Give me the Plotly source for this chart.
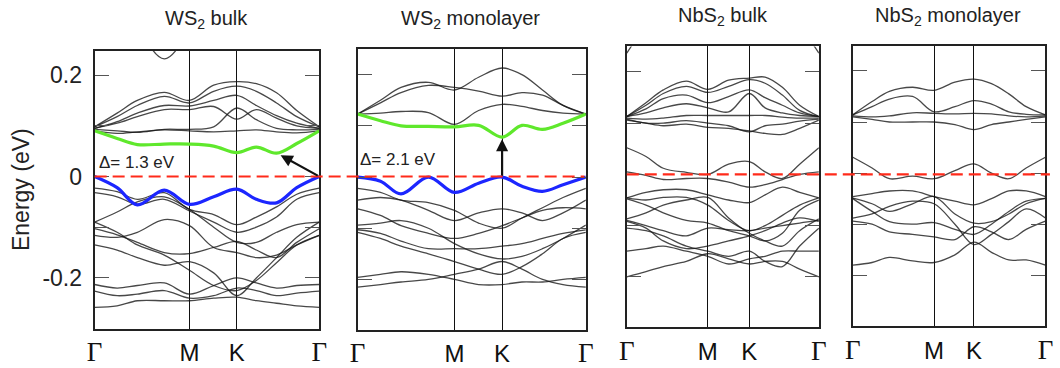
import plotly.graph_objects as go

# ---------------- data ----------------
panel_titles = ["WS<sub>2</sub> bulk", "WS<sub>2</sub> monolayer", "NbS<sub>2</sub> bulk", "NbS<sub>2</sub> monolayer"]
k_labels = ["Γ", "M", "K", "Γ"]
m_pos = [0.422, 0.424, 0.422, 0.422]
k_pos = [0.633, 0.633, 0.638, 0.629]
k_inner = [0.1, 0.19, 0.31, 0.53, 0.72, 0.81, 0.9]   # extra sampling points along the path

# energies (eV) at k = [0, .1, .19, .31, M, .53, K, .72, .81, .9, 1]
ws2_bulk_cb = [0.090, 0.075, 0.063, 0.064, 0.064, 0.060, 0.047, 0.058, 0.046, 0.065, 0.090]
ws2_bulk_vb = [0.0, -0.022, -0.056, -0.027, -0.055, -0.040, -0.025, -0.045, -0.052, -0.022, 0.0]
ws2_bulk_bands = [
    [0.50, 0.42, 0.30, 0.232, 0.29, 0.40, 0.45, 0.45, 0.45, 0.45, 0.50],
    [0.098, 0.125, 0.150, 0.166, 0.150, 0.180, 0.187, 0.183, 0.165, 0.130, 0.098],
    [0.098, 0.118, 0.140, 0.158, 0.145, 0.168, 0.178, 0.168, 0.145, 0.118, 0.098],
    [0.095, 0.108, 0.125, 0.140, 0.139, 0.150, 0.160, 0.140, 0.120, 0.105, 0.095],
    [0.095, 0.105, 0.118, 0.132, 0.132, 0.138, 0.113, 0.132, 0.115, 0.100, 0.095],
    [0.093, 0.090, 0.087, 0.093, 0.093, 0.098, 0.135, 0.112, 0.095, 0.092, 0.093],
    [0.090, 0.085, 0.088, 0.092, 0.090, 0.088, 0.090, 0.092, 0.088, 0.086, 0.090],
    [-0.023, -0.030, -0.045, -0.032, -0.065, -0.075, -0.095, -0.080, -0.060, -0.035, -0.023],
    [-0.032, -0.040, -0.055, -0.045, -0.068, -0.090, -0.110, -0.100, -0.080, -0.045, -0.032],
    [-0.090, -0.070, -0.050, -0.040, -0.065, -0.100, -0.130, -0.130, -0.110, -0.095, -0.090],
    [-0.103, -0.115, -0.130, -0.150, -0.152, -0.140, -0.128, -0.145, -0.160, -0.130, -0.103],
    [-0.116, -0.120, -0.110, -0.085, -0.097, -0.140, -0.150, -0.160, -0.155, -0.135, -0.116],
    [-0.135, -0.145, -0.160, -0.175, -0.168, -0.190, -0.235, -0.200, -0.160, -0.120, -0.090],
    [-0.090, -0.110, -0.135, -0.155, -0.185, -0.215, -0.225, -0.205, -0.170, -0.135, -0.116],
    [-0.213, -0.220, -0.215, -0.210, -0.232, -0.215, -0.200, -0.210, -0.220, -0.215, -0.213],
    [-0.226, -0.235, -0.232, -0.225, -0.240, -0.235, -0.220, -0.225, -0.235, -0.230, -0.226],
    [-0.258, -0.255, -0.245, -0.245, -0.245, -0.240, -0.238, -0.245, -0.250, -0.255, -0.258],
]

ws2_mono_cb = [0.123, 0.110, 0.100, 0.099, 0.098, 0.101, 0.078, 0.101, 0.093, 0.105, 0.123]
ws2_mono_vb = [0.0, -0.008, -0.033, 0.0, -0.030, -0.012, 0.0, -0.018, -0.028, -0.015, 0.0]
ws2_mono_bands = [
    [0.123, 0.150, 0.175, 0.185, 0.170, 0.195, 0.213, 0.200, 0.170, 0.140, 0.123],
    [0.123, 0.145, 0.165, 0.179, 0.175, 0.168, 0.158, 0.165, 0.160, 0.140, 0.123],
    [0.123, 0.125, 0.128, 0.126, 0.103, 0.130, 0.142, 0.138, 0.130, 0.125, 0.123],
    [-0.022, -0.030, -0.045, -0.050, -0.065, -0.090, -0.100, -0.080, -0.060, -0.040, -0.022],
    [-0.045, -0.040, -0.045, -0.065, -0.085, -0.070, -0.062, -0.070, -0.085, -0.070, -0.045],
    [-0.062, -0.075, -0.095, -0.110, -0.120, -0.110, -0.095, -0.080, -0.065, -0.060, -0.062],
    [-0.094, -0.090, -0.085, -0.100, -0.130, -0.150, -0.160, -0.155, -0.140, -0.120, -0.094],
    [-0.103, -0.110, -0.125, -0.140, -0.140, -0.140, -0.135, -0.130, -0.120, -0.110, -0.103],
    [-0.108, -0.120, -0.135, -0.150, -0.165, -0.180, -0.190, -0.175, -0.150, -0.120, -0.108],
    [-0.196, -0.190, -0.185, -0.190, -0.200, -0.210, -0.210, -0.205, -0.205, -0.200, -0.196],
    [-0.215, -0.210, -0.205, -0.200, -0.190, -0.180, -0.165, -0.180, -0.200, -0.210, -0.215],
]

nbs2_bulk_bands = [
    [0.237, 0.300, 0.400, 0.500, 0.500, 0.500, 0.500, 0.500, 0.400, 0.300, 0.237],
    [0.113, 0.140, 0.165, 0.182, 0.166, 0.184, 0.188, 0.190, 0.170, 0.135, 0.113],
    [0.113, 0.135, 0.158, 0.172, 0.160, 0.172, 0.185, 0.178, 0.155, 0.125, 0.113],
    [0.113, 0.128, 0.148, 0.155, 0.140, 0.152, 0.165, 0.150, 0.135, 0.120, 0.113],
    [0.113, 0.120, 0.130, 0.138, 0.130, 0.122, 0.158, 0.130, 0.120, 0.115, 0.113],
    [0.110, 0.108, 0.110, 0.115, 0.115, 0.115, 0.115, 0.115, 0.112, 0.110, 0.110],
    [0.108, 0.100, 0.100, 0.105, 0.100, 0.095, 0.083, 0.095, 0.098, 0.104, 0.108],
    [0.106, 0.100, 0.095, 0.098, 0.092, 0.090, 0.085, 0.080, 0.078, 0.090, 0.106],
    [0.052, 0.035, 0.012, 0.004, 0.000, 0.020, 0.025, 0.005, -0.008, 0.020, 0.052],
    [0.005, -0.002, -0.010, -0.008, -0.008, -0.015, -0.025, -0.020, -0.010, 0.000, 0.005],
    [-0.046, -0.035, -0.030, -0.030, -0.040, -0.050, -0.055, -0.040, -0.025, -0.035, -0.046],
    [-0.046, -0.050, -0.045, -0.045, -0.060, -0.090, -0.110, -0.100, -0.080, -0.060, -0.046],
    [-0.048, -0.060, -0.075, -0.090, -0.095, -0.110, -0.120, -0.130, -0.115, -0.070, -0.050],
    [-0.087, -0.075, -0.060, -0.050, -0.045, -0.085, -0.115, -0.130, -0.140, -0.110, -0.087],
    [-0.090, -0.100, -0.110, -0.120, -0.105, -0.108, -0.110, -0.105, -0.100, -0.095, -0.090],
    [-0.092, -0.105, -0.130, -0.145, -0.140, -0.130, -0.120, -0.110, -0.095, -0.085, -0.092],
    [-0.105, -0.110, -0.120, -0.140, -0.150, -0.160, -0.150, -0.170, -0.180, -0.140, -0.105],
    [-0.150, -0.145, -0.140, -0.150, -0.160, -0.175, -0.165, -0.160, -0.150, -0.150, -0.150],
    [-0.200, -0.190, -0.180, -0.170, -0.155, -0.165, -0.175, -0.170, -0.170, -0.185, -0.200],
]

nbs2_mono_bands = [
    [0.114, 0.140, 0.160, 0.168, 0.162, 0.178, 0.184, 0.175, 0.155, 0.130, 0.114],
    [0.114, 0.130, 0.145, 0.150, 0.120, 0.130, 0.142, 0.135, 0.120, 0.115, 0.114],
    [0.112, 0.110, 0.112, 0.118, 0.117, 0.116, 0.117, 0.116, 0.112, 0.110, 0.112],
    [0.110, 0.105, 0.100, 0.100, 0.100, 0.095, 0.085, 0.095, 0.100, 0.105, 0.110],
    [0.031, 0.010, -0.011, -0.006, -0.011, 0.005, 0.018, 0.000, -0.011, 0.010, 0.031],
    [-0.046, -0.040, -0.035, -0.035, -0.046, -0.055, -0.062, -0.050, -0.035, -0.035, -0.046],
    [-0.049, -0.060, -0.075, -0.060, -0.046, -0.080, -0.098, -0.095, -0.080, -0.060, -0.049],
    [-0.050, -0.075, -0.095, -0.100, -0.097, -0.110, -0.120, -0.100, -0.075, -0.055, -0.050],
    [-0.088, -0.080, -0.065, -0.055, -0.060, -0.100, -0.140, -0.120, -0.095, -0.070, -0.088],
    [-0.094, -0.100, -0.115, -0.120, -0.125, -0.130, -0.105, -0.115, -0.130, -0.110, -0.094],
    [-0.180, -0.175, -0.165, -0.172, -0.175, -0.160, -0.135, -0.155, -0.170, -0.170, -0.180],
]

label_ticks = [-0.2, 0.0, 0.2]
label_tick_text = ["-0.2", "0", "0.2"]
minor_ticks = [-0.1, 0.1]
all_ticks = [-0.2, -0.1, 0.0, 0.1, 0.2]
gap_labels = ["Δ= 1.3 eV", "Δ= 2.1 eV"]

# ---------------- layout geometry ----------------
x_domains = [[0.0830, 0.2981], [0.3349, 0.5535], [0.5927, 0.7767], [0.8092, 0.9937]]
y_domains = [[0.0897, 0.8595], [0.0870, 0.8641], [0.0943, 0.8715], [0.0959, 0.8715]]
y_ranges = [[-0.300, 0.248], [-0.298, 0.250], [-0.298, 0.250], [-0.300, 0.248]]

panels = [
    (ws2_bulk_bands, ws2_bulk_cb, ws2_bulk_vb),
    (ws2_mono_bands, ws2_mono_cb, ws2_mono_vb),
    (nbs2_bulk_bands, None, None),
    (nbs2_mono_bands, None, None),
]

FONT = "Liberation Sans, Arial, sans-serif"
fig = go.Figure()

for i, (bands, cb, vb) in enumerate(panels):
    n = i + 1
    xa = "x" if n == 1 else f"x{n}"
    ya = "y" if n == 1 else f"y{n}"
    kgrid = [0.0] + k_inner[:3] + [m_pos[i], k_inner[3], k_pos[i]] + k_inner[4:] + [1.0]
    for b in bands:
        fig.add_trace(go.Scatter(x=kgrid, y=b, mode="lines", xaxis=xa, yaxis=ya,
                                 line=dict(color="rgba(20,20,20,0.78)", width=1.3,
                                           shape="spline", smoothing=1.0),
                                 hoverinfo="skip", showlegend=False))
    if cb is not None:
        fig.add_trace(go.Scatter(x=kgrid, y=cb, mode="lines", xaxis=xa, yaxis=ya,
                                 line=dict(color="#5fe82c", width=3.2, shape="spline", smoothing=1.0),
                                 hoverinfo="skip", showlegend=False))
        fig.add_trace(go.Scatter(x=kgrid, y=vb, mode="lines", xaxis=xa, yaxis=ya,
                                 line=dict(color="#1c26ff", width=3.2, shape="spline", smoothing=1.0),
                                 hoverinfo="skip", showlegend=False))

    gamma = ('<span style="font-family:Liberation Serif, Times New Roman, serif;'
             'font-size:27px">Γ</span>')
    ticktext = [gamma if t == "Γ" else t for t in k_labels]
    fig.layout[("xaxis" if n == 1 else f"xaxis{n}")] = dict(
        domain=x_domains[i], range=[0, 1], anchor=ya,
        tickvals=[0, m_pos[i], k_pos[i], 1], ticktext=ticktext, ticks="",
        showgrid=True, gridcolor="#111", gridwidth=1.2, zeroline=False,
        showline=True, linecolor="#222", linewidth=2, mirror=True,
        tickfont=dict(family=FONT, size=24, color="#111"), ticklabelstandoff=2,
    )
    if n == 1:
        ytick = dict(tickvals=label_ticks, ticktext=label_tick_text, showticklabels=True,
                     minor=dict(tickvals=minor_ticks, ticks="inside", ticklen=14,
                                tickwidth=1.2, tickcolor="#555", showgrid=False))
    else:
        ytick = dict(tickvals=all_ticks, showticklabels=False)
    fig.layout[("yaxis" if n == 1 else f"yaxis{n}")] = dict(
        domain=y_domains[i], range=y_ranges[i], anchor=xa,
        ticks="inside", ticklen=14, tickwidth=1.2, tickcolor="#555",
        showgrid=False, zeroline=False,
        showline=True, linecolor="#222", linewidth=2, mirror="ticks",
        tickfont=dict(family=FONT, size=23, color="#222"), ticklabelstandoff=6,
        **ytick,
    )

fig.update_layout(
    width=1060, height=368, margin=dict(l=0, r=0, t=0, b=0),
    paper_bgcolor="white", plot_bgcolor="white",
    yaxis_title=dict(text="Energy (eV)", font=dict(family=FONT, size=23, color="#222"), standoff=6),
)

# Fermi level dashed lines
fig.add_shape(type="line", xref="paper", yref="y", x0=0.083, x1=0.552, y0=0, y1=0,
              line=dict(color="#ff2a1a", width=2.2, dash="12px,6px"), layer="above")
fig.add_shape(type="line", xref="paper", yref="y3", x0=0.5927, x1=0.998, y0=0, y1=0,
              line=dict(color="#ff2a1a", width=2.2, dash="12px,6px"), layer="above")

# titles
title_x = [0.190, 0.443, 0.685, 0.900]
title_y = [0.945, 0.945, 0.955, 0.953]
for i, t in enumerate(panel_titles):
    fig.add_annotation(text=t, xref="paper", yref="paper", x=title_x[i], y=title_y[i],
                       xanchor="center", yanchor="middle", showarrow=False,
                       font=dict(family=FONT, size=20, color="#222"))

# gap annotations
fig.add_annotation(text=gap_labels[0], xref="x", yref="y", x=0.01, y=0.028, xanchor="left",
                   yanchor="middle", showarrow=False, font=dict(family=FONT, size=17, color="#222"))
fig.add_annotation(text=gap_labels[1], xref="x2", yref="y2", x=0.0, y=0.034, xanchor="left",
                   yanchor="middle", showarrow=False, font=dict(family=FONT, size=17, color="#222"))

# arrows
fig.add_annotation(x=0.828, y=0.042, xref="x", yref="y", ax=1.0, ay=0.0, axref="x", ayref="y",
                   showarrow=True, arrowhead=2, arrowsize=1.1, arrowwidth=2.2, arrowcolor="#111", text="")
fig.add_annotation(x=k_pos[1], y=0.074, xref="x2", yref="y2", ax=k_pos[1], ay=0.0, axref="x2", ayref="y2",
                   showarrow=True, arrowhead=2, arrowsize=1.1, arrowwidth=2.2, arrowcolor="#111", text="")

fig.write_html("out.html")
